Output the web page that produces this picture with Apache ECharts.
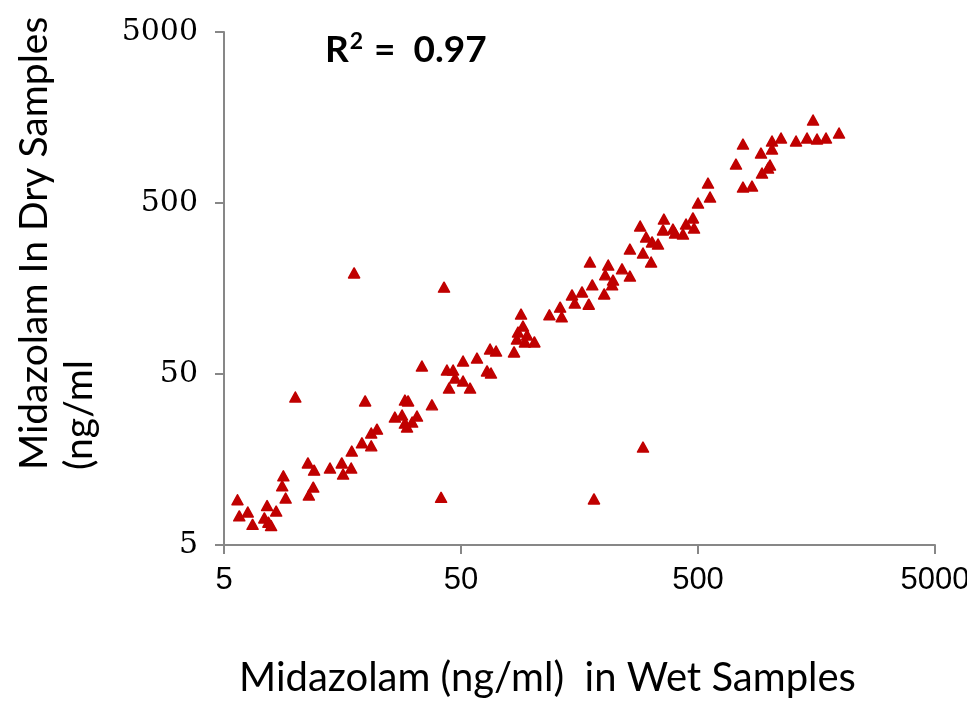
<!DOCTYPE html>
<html>
<head>
<meta charset="utf-8">
<script src="https://cdn.jsdelivr.net/npm/echarts@6/dist/echarts.min.js"></script>
<style>
  html, body { margin: 0; padding: 0; background: #fff; }
  #chart { width: 967px; height: 701px; }
</style>
</head>
<body>
<div id="chart"></div>
<script>
// midazolam concentration (ng/ml), wet vs dry samples
const wetValues = [
  5.7, 5.8, 6.3, 6.6, 7.6, 8.3, 7.4, 7.7, 7.9, 8.9, 8.8, 9.1,
  11.3, 12.0, 11.9, 11.4, 14.0, 15.7, 15.9, 17.2, 17.3, 19.1, 20.9, 20.9,
  10.0, 19.7, 34.2, 43.6, 46.3, 47.2, 51.0, 58.4, 51.0, 54.6, 44.5, 37.7,
  29.0, 29.9, 26.3, 28.2, 29.6, 31.1, 32.6, 29.0, 22.1, 42.4,
  89.6, 118, 131, 133, 147, 91.3, 87.0, 95, 86.1, 102, 93.1, 83.7,
  66.3, 70.3, 64.4, 66.9,
  285, 359, 356, 392, 400, 445, 476, 481, 432, 302, 320, 339, 258, 293,
  317, 175, 209, 203, 239, 258, 219, 217, 179, 162, 201, 173, 151,
  1529, 1968, 1296, 1442, 1589, 1734, 1120, 1026, 1026, 774, 922, 723,
  1006, 987, 931, 774, 845, 551, 562, 500,
  17.7, 41.2, 182, 293
];
const dryValues = [
  9.2, 7.4, 7.8, 6.6, 8.5, 7.9, 7.2, 6.8, 6.5, 12.7, 11.1, 9.4,
  15.1, 13.7, 10.9, 9.8, 14.1, 15.1, 13.0, 14.1, 17.7, 19.8, 22.6, 19.0,
  36.7, 34.8, 55.7, 52.8, 52.8, 47.4, 59.6, 62.0, 45.5, 41.4, 41.4, 33.0,
  35.2, 34.8, 28.0, 28.8, 24.5, 26.2, 28.4, 25.8, 23.8, 161,
  112, 111, 123, 108, 145, 95.4, 88.0, 84.5, 80.1, 77, 77, 67.3,
  70, 68.2, 52.1, 50.7,
  367, 403, 348, 352, 334, 377, 409, 357, 329, 316, 296, 288, 269, 255,
  226, 226, 217, 190, 206, 187, 177, 166, 166, 151, 147, 128, 130,
  1529, 1284, 1153, 1200, 1184, 1200, 1200, 1153, 1035, 1106, 980, 845,
  834, 801, 749, 620, 628, 654, 542, 500,
  195, 9.5, 9.3, 18.7
];
const xTicks = [5, 50, 500, 5000];
const yTicks = [5, 50, 500, 5000];
const rSquared = '0.97';

const points = wetValues.map((w, i) => [w, dryValues[i]]);

const chart = echarts.init(document.getElementById('chart'));

const axisColor = '#878787';
const plainNumber = v => String(Math.round(v));

const option = {
  animation: false,
  backgroundColor: '#fff',
  grid: {
    left: 224,
    right: 32,
    top: 32,
    bottom: 156,
    outerBoundsMode: 'none'
  },
  title: {
    text: '{b|R}{sup|2}{b| =  ' + rSquared + '}',
    left: 320,
    top: 25,
    textStyle: {
      rich: {
        b: { fontFamily: 'Lato', fontWeight: 'bold', fontSize: 37, color: '#000' },
        sup: { fontFamily: 'Lato', fontWeight: 'bold', fontSize: 23, color: '#000', padding: [0, 2, 18, 1] }
      }
    }
  },
  xAxis: {
    type: 'log',
    logBase: 10,
    min: 5,
    max: 5000,
    name: 'Midazolam (ng/ml)  in Wet Samples',
    nameLocation: 'middle',
    nameGap: 113,
    nameTextStyle: {
      fontFamily: 'Lato',
      fontSize: 40,
      color: '#000',
      padding: [0, 64, 0, 0]
    },
    axisLine: { lineStyle: { color: axisColor, width: 2 } },
    axisTick: { customValues: xTicks, length: 9, lineStyle: { color: axisColor, width: 2 } },
    axisLabel: {
      customValues: xTicks,
      formatter: plainNumber,
      margin: 20,
      fontFamily: 'Liberation Sans',
      fontSize: 31,
      color: '#000'
    },
    splitLine: { show: false },
    minorTick: { show: false }
  },
  yAxis: {
    type: 'log',
    logBase: 10,
    min: 5,
    max: 5000,
    axisLine: { lineStyle: { color: axisColor, width: 2 } },
    axisTick: { customValues: yTicks, length: 9, lineStyle: { color: axisColor, width: 2 } },
    axisLabel: {
      customValues: yTicks,
      formatter: plainNumber,
      margin: 26,
      fontFamily: 'DejaVu Serif',
      fontSize: 30,
      color: '#000'
    },
    splitLine: { show: false },
    minorTick: { show: false }
  },
  graphic: [
    {
      type: 'text',
      x: 12,
      y: 470,
      rotation: Math.PI / 2,
      style: {
        text: 'Midazolam In Dry Samples\n(ng/ml',
        fontFamily: 'Lato',
        fontSize: 39,
        lineHeight: 45,
        fill: '#000',
        textAlign: 'left',
        textVerticalAlign: 'top'
      }
    }
  ],
  series: [
    {
      type: 'scatter',
      data: points,
      symbol: 'triangle',
      symbolSize: [11, 10],
      itemStyle: {
        color: '#C00000',
        opacity: 1,
        borderColor: '#C00000',
        borderWidth: 1.5,
        borderJoin: 'round'
      }
    }
  ]
};

chart.setOption(option);
</script>
</body>
</html>
